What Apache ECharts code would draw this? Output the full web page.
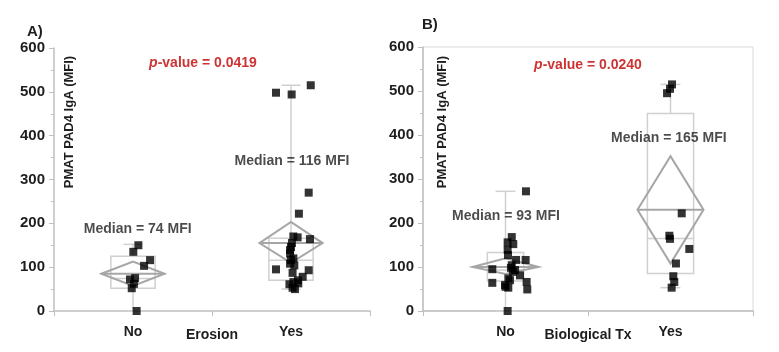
<!DOCTYPE html>
<html>
<head>
<meta charset="utf-8">
<script src="https://cdn.jsdelivr.net/npm/echarts@6/dist/echarts.min.js"></script>
<style>
  html, body { margin: 0; background: #fff; }
  #chart { width: 779px; height: 352px; }
</style>
</head>
<body>
<div id="chart"></div>
<script>
const categories = ["No", "Yes"]
const yTicks = [0, 100, 200, 300, 400, 500, 600]

// A) Erosion
const erosionNo = [150, 135, 116, 103, 75, 72, 62, 52, 0]
const erosionNoJitter = [0.034, 0.002, 0.108, 0.07, 0.013, -0.019, 0.006, -0.008, 0.023]
const erosionYes = [515, 498, 494, 270, 222, 170, 168, 164, 155, 146, 139, 131, 120, 116, 108, 104, 95, 93, 87, 78, 70, 66, 63, 61, 53, 50]
const erosionYesJitter = [0.125, -0.095, 0.004, 0.112, 0.05, 0.015, 0.042, 0.12, 0.006, 0, -0.006, -0.006, 0.015, 0, -0.006, 0.021, -0.095, 0.112, 0.01, 0.074, 0.044, 0.015, 0.046, -0.01, 0.01, 0.025]
// [low whisker, q1, median, q3, high whisker]
const erosionBox = [[0, 52, 74, 125, 152], [50, 70, 116, 166, 515]]
// [mean, lower CI, upper CI]
const erosionMean = [[85, 57, 113], [155, 110, 203]]
const erosionMedians = ["Median = 74 MFI", "Median = 116 MFI"]
const erosionP = "0.0419"

// B) Biological Tx
const bioNo = [272, 168, 156, 152, 139, 127, 116, 116, 104, 98, 95, 93, 89, 81, 74, 70, 66, 64, 59, 55, 53, 49, 0]
const bioNoJitter = [0.124, 0.038, 0.013, 0.047, 0.013, 0.015, 0.064, 0.122, 0.038, 0.033, -0.08, 0.058, 0.045, 0.088, 0.017, 0.027, 0.128, -0.08, -0.003, 0, 0.017, 0.132, 0.013]
const bioYes = [515, 505, 495, 222, 171, 164, 141, 108, 79, 66, 53]
const bioYesJitter = [0.009, -0.003, -0.021, 0.068, -0.007, -0.003, 0.114, 0.033, 0.017, 0.023, 0.007]
const bioBox = [[0, 68, 93, 133, 272], [53, 85, 165, 449, 515]]
const bioMean = [[100, 84, 120], [230, 108, 352]]
const bioMedians = ["Median = 93 MFI", "Median = 165 MFI"]
const bioP = "0.0240"

const chart = echarts.init(document.getElementById("chart"))

const font = "'Liberation Sans', Arial, sans-serif"
const axisGray = "#bfbfbf"
const boxGray = "#d0d0d0"
const diamondGray = "#a6a6a6"
const textDark = "#1e1e1e"

const grids = [
  { left: 54, top: 48, width: 316, height: 263, outerBoundsMode: "none" },
  { left: 423, top: 47, width: 330, height: 264, outerBoundsMode: "none", show: true, borderColor: "#d9d9d9", borderWidth: 1 },
]

// label anchors in data space of each panel (x: 0..2, y: MFI)
const medianAnchors = [
  [[0.53, 187], [1.506, 342]],
  [[0.503, 215], [1.49, 392]],
]
const pAnchors = [[0.943, 566], [1.0, 558]]
const boxWidths = [[0.28, 0.28], [0.22, 0.28]]
const diamondHalf = 0.2

function jittered(vals, jit, center) {
  return vals.map((v, i) => [center + jit[i], v])
}

function boxSeries(gi, boxes, means) {
  const data = boxes.map((b, i) => [i + 0.5, ...b, ...means[i], boxWidths[gi][i]])
  return {
    type: "custom",
    xAxisIndex: gi * 2 + 1,
    yAxisIndex: gi,
    z: 2,
    silent: true,
    data: data,
    renderItem: (params, api) => {
      const c = api.value(0)
      const lo = api.value(1), q1 = api.value(2), med = api.value(3), q3 = api.value(4), hi = api.value(5)
      const mean = api.value(6), cl = api.value(7), ch = api.value(8)
      const bw = api.value(9) / 2
      const P = (x, y) => api.coord([x, y])
      const capW = 0.06
      const boxStyle = { stroke: boxGray, lineWidth: 1.5, fill: null }
      const children = [
        { type: "line", shape: { x1: P(c, q3)[0], y1: P(c, q3)[1], x2: P(c, hi)[0], y2: P(c, hi)[1] }, style: boxStyle },
        { type: "line", shape: { x1: P(c, q1)[0], y1: P(c, q1)[1], x2: P(c, lo)[0], y2: P(c, lo)[1] }, style: boxStyle },
        { type: "line", shape: { x1: P(c - capW, hi)[0], y1: P(c, hi)[1], x2: P(c + capW, hi)[0], y2: P(c, hi)[1] }, style: boxStyle },
        { type: "line", shape: { x1: P(c - capW, lo)[0], y1: P(c, lo)[1], x2: P(c + capW, lo)[0], y2: P(c, lo)[1] }, style: boxStyle },
        { type: "rect", shape: { x: P(c - bw, q3)[0], y: P(c, q3)[1], width: P(c + bw, q3)[0] - P(c - bw, q3)[0], height: P(c, q1)[1] - P(c, q3)[1] }, style: boxStyle },
        { type: "line", shape: { x1: P(c - bw, med)[0], y1: P(c, med)[1], x2: P(c + bw, med)[0], y2: P(c, med)[1] }, style: boxStyle },
        { type: "polygon", shape: { points: [P(c - diamondHalf, mean), P(c, ch), P(c + diamondHalf, mean), P(c, cl)] }, style: { stroke: diamondGray, lineWidth: 2, fill: null } },
        { type: "line", shape: { x1: P(c - diamondHalf, mean)[0], y1: P(c, mean)[1], x2: P(c + diamondHalf, mean)[0], y2: P(c, mean)[1] }, style: { stroke: diamondGray, lineWidth: 2 } },
      ]
      return { type: "group", children: children }
    },
  }
}

function pointSeries(gi, vals, jit, center) {
  return {
    type: "scatter",
    xAxisIndex: gi * 2 + 1,
    yAxisIndex: gi,
    z: 5,
    symbol: "rect",
    symbolSize: 8,
    itemStyle: { color: "#000" },
    data: jittered(vals, jit, center),
  }
}

function labelSeries(gi, texts, pval) {
  const data = medianAnchors[gi].map((a, i) => ({ value: a, label: { formatter: texts[i] } }))
  data.push({
    value: pAnchors[gi],
    label: {
      formatter: "{i|p}{r|-value = " + pval + "}",
      rich: {
        i: { color: "#c00000", fontStyle: "italic", fontWeight: "bold", fontSize: 14, fontFamily: font },
        r: { color: "#c00000", fontWeight: "bold", fontSize: 14, fontFamily: font },
      },
    },
  })
  return {
    type: "scatter",
    xAxisIndex: gi * 2 + 1,
    yAxisIndex: gi,
    z: 6,
    symbolSize: 0,
    silent: true,
    label: { show: true, position: "inside", color: textDark, fontWeight: "bold", fontSize: 14, fontFamily: font },
    data: data,
  }
}

const xAxes = []
const yAxes = []
const axisNames = ["Erosion", "Biological Tx"]
for (let gi = 0; gi < 2; gi++) {
  xAxes.push({
    type: "category",
    gridIndex: gi,
    data: categories,
    boundaryGap: true,
    name: axisNames[gi],
    nameLocation: "middle",
    nameGap: 17,
    nameMoveOverlap: false,
    nameTextStyle: { color: textDark, fontWeight: "bold", fontSize: 14, fontFamily: font, verticalAlign: "top" },
    axisLine: { lineStyle: { color: axisGray, width: 1.5 } },
    axisTick: { show: true, length: 5, lineStyle: { color: axisGray } },
    axisLabel: { color: textDark, fontWeight: "bold", fontSize: 14, fontFamily: font, margin: 14 },
    splitLine: { show: false },
  })
  xAxes.push({ type: "value", gridIndex: gi, min: 0, max: 2, show: false })
  yAxes.push({
    type: "value",
    gridIndex: gi,
    min: yTicks[0],
    max: yTicks[yTicks.length - 1],
    interval: 100,
    axisLine: { show: true, lineStyle: { color: axisGray, width: 1.5 } },
    axisTick: { show: true, length: 5, lineStyle: { color: axisGray } },
    minorTick: { show: true, splitNumber: 2, length: 3, lineStyle: { color: axisGray } },
    splitLine: { show: false },
    axisLabel: { color: textDark, fontWeight: "bold", fontSize: 15, fontFamily: font, margin: 9 },
  })
}

const option = {
  animation: false,
  backgroundColor: "#fff",
  grid: grids,
  xAxis: xAxes,
  yAxis: yAxes,
  graphic: [
    { type: "text", left: 27, top: 24, style: { text: "A)", fontSize: 15, fontWeight: "bold", fill: textDark, fontFamily: font } },
    { type: "text", left: 422, top: 17, style: { text: "B)", fontSize: 15, fontWeight: "bold", fill: textDark, fontFamily: font } },
    { type: "text", x: 63, y: 122, rotation: Math.PI / 2, style: { text: "PMAT PAD4 IgA (MFI)", fontSize: 13, fontWeight: "bold", fill: textDark, fontFamily: font, align: "center", verticalAlign: "top" } },
    { type: "text", x: 436, y: 122, rotation: Math.PI / 2, style: { text: "PMAT PAD4 IgA (MFI)", fontSize: 13, fontWeight: "bold", fill: textDark, fontFamily: font, align: "center", verticalAlign: "top" } },
  ],
  series: [
    boxSeries(0, erosionBox, erosionMean),
    pointSeries(0, erosionNo, erosionNoJitter, 0.5),
    pointSeries(0, erosionYes, erosionYesJitter, 1.5),
    labelSeries(0, erosionMedians, erosionP),
    boxSeries(1, bioBox, bioMean),
    pointSeries(1, bioNo, bioNoJitter, 0.5),
    pointSeries(1, bioYes, bioYesJitter, 1.5),
    labelSeries(1, bioMedians, bioP),
  ],
}

chart.setOption(option)
</script>
</body>
</html>
